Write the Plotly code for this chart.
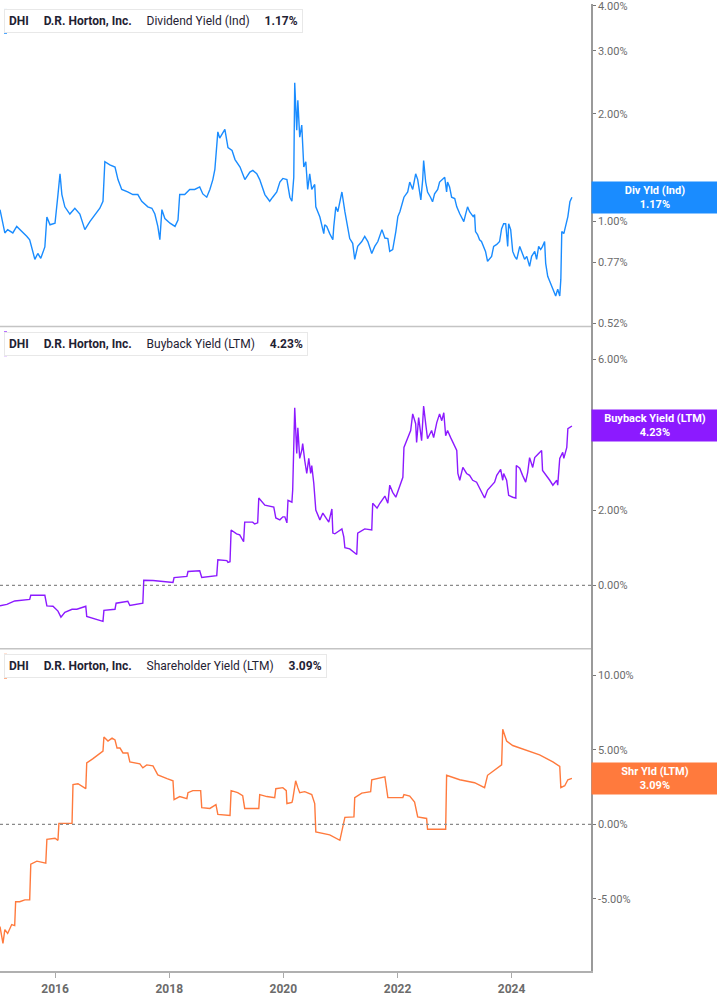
import numpy as np
import plotly.graph_objects as go

# ---------------- data ----------------
div_dates = [
    "2015-01-14","2015-02-14","2015-03-04","2015-04-06","2015-05-01","2015-06-03","2015-07-04","2015-07-23","2015-08-12","2015-08-25","2015-09-13","2015-10-02","2015-10-28","2015-11-10","2015-11-30",
    "2016-01-01","2016-01-20","2016-02-02","2016-02-14","2016-03-04","2016-04-05","2016-05-07","2016-06-08","2016-07-10","2016-08-11","2016-09-13","2016-10-14","2016-11-03","2016-11-15","2016-12-17",
    "2017-01-19","2017-02-07","2017-03-03","2017-04-10","2017-05-13","2017-06-14","2017-07-09","2017-08-17","2017-09-12","2017-10-01","2017-10-20","2017-11-02","2017-11-15","2017-12-04",
    "2018-01-06","2018-02-07","2018-02-26","2018-03-09","2018-04-10","2018-05-12","2018-06-13","2018-07-15","2018-08-04","2018-08-29","2018-09-18","2018-10-07","2018-10-20","2018-11-08","2018-11-20","2018-12-23",
    "2019-01-12","2019-02-07","2019-02-26","2019-03-30","2019-04-30","2019-06-01","2019-06-20","2019-07-15","2019-08-03","2019-09-05","2019-10-06","2019-10-25","2019-11-20","2019-12-10","2019-12-29",
    "2020-01-24","2020-02-12","2020-02-25","2020-03-08","2020-03-14","2020-03-27","2020-04-03","2020-04-15","2020-04-28","2020-05-11","2020-05-24","2020-06-05","2020-06-18","2020-07-01","2020-07-20","2020-07-27","2020-08-22","2020-09-03","2020-09-16","2020-09-22","2020-10-05","2020-10-24","2020-11-13","2020-11-19","2020-12-02","2020-12-15","2020-12-28",
    "2021-01-10","2021-01-29","2021-02-17","2021-03-01","2021-03-20","2021-04-02","2021-04-21","2021-05-17","2021-06-05","2021-06-25","2021-07-20","2021-08-08","2021-08-28","2021-09-23","2021-10-12","2021-10-31","2021-11-12","2021-12-01","2021-12-21",
    "2022-01-03","2022-01-16","2022-02-11","2022-03-07","2022-03-20","2022-04-08","2022-04-27","2022-05-10","2022-05-30","2022-06-11","2022-06-17","2022-06-30","2022-07-12","2022-07-31","2022-08-13","2022-08-26","2022-09-15","2022-09-27","2022-10-17","2022-10-30","2022-11-11","2022-11-17","2022-11-30","2022-12-13",
    "2023-01-02","2023-01-15","2023-02-03","2023-02-16","2023-03-01","2023-03-12","2023-03-25","2023-04-07","2023-04-30","2023-05-09","2023-05-15","2023-05-28","2023-06-10","2023-06-22","2023-07-06","2023-07-18","2023-07-31","2023-08-13","2023-08-26","2023-09-08","2023-09-28","2023-10-16","2023-10-29","2023-11-11","2023-11-24","2023-12-07","2023-12-13","2023-12-26",
    "2024-01-08","2024-01-21","2024-02-03","2024-02-22","2024-03-11","2024-03-24","2024-04-07","2024-04-19","2024-04-25","2024-05-08","2024-05-28","2024-06-09","2024-06-22","2024-07-05","2024-07-17","2024-07-30","2024-08-06","2024-08-19","2024-09-01","2024-09-14","2024-09-27","2024-10-09","2024-10-22","2024-11-04","2024-11-11","2024-11-17","2024-11-30","2024-12-13","2024-12-26",
    "2025-01-08","2025-01-21",
]
div_vals = [
    1.08,0.93,0.95,0.93,0.97,0.94,0.91,0.89,0.83,0.785,0.815,0.79,0.85,1.03,0.98,
    0.99,1.19,1.36,1.19,1.10,1.05,1.09,1.05,0.95,1.00,1.05,1.09,1.14,1.47,1.44,
    1.42,1.31,1.23,1.21,1.19,1.19,1.14,1.10,1.09,1.05,0.97,0.89,1.08,1.02,
    0.99,0.97,1.01,1.19,1.19,1.23,1.23,1.25,1.195,1.17,1.23,1.31,1.40,1.78,1.71,1.81,
    1.61,1.58,1.49,1.42,1.31,1.375,1.39,1.36,1.31,1.19,1.14,1.17,1.21,1.29,1.32,
    1.31,1.17,1.14,1.33,2.44,1.80,2.18,1.72,1.86,1.42,1.47,1.23,1.36,1.23,1.27,1.10,1.03,0.97,0.926,0.98,0.97,0.926,0.89,0.97,1.10,1.066,1.136,
    1.21,1.066,0.97,0.897,0.87,0.785,0.853,0.88,0.91,0.88,0.815,0.853,0.88,0.95,0.90,0.897,0.826,0.836,0.938,
    1.033,1.066,1.17,1.21,1.29,1.23,1.36,1.31,1.15,1.31,1.48,1.29,1.21,1.17,1.136,1.195,1.23,1.29,1.31,1.33,1.21,1.29,1.25,1.17,
    1.16,1.10,1.052,1.02,1.00,1.046,1.10,1.066,1.033,1.046,0.938,0.92,0.89,0.88,0.853,0.826,0.775,0.785,0.80,0.853,0.864,0.88,0.956,0.987,0.987,0.853,0.987,0.95,
    0.826,0.80,0.785,0.853,0.815,0.785,0.80,0.765,0.75,0.80,0.826,0.785,0.853,0.836,0.853,0.88,0.765,0.704,0.682,0.66,0.64,0.62,0.648,0.62,0.691,0.938,0.926,0.987,1.033,
    1.136,1.17,
]

bb_dates = [
    "2015-01-14","2015-02-27","2015-04-18","2015-07-23","2015-07-30","2015-10-28","2015-11-10","2015-12-19",
    "2016-01-20","2016-02-08","2016-03-04","2016-04-19","2016-05-20","2016-07-16","2016-07-22","2016-09-26","2016-11-03","2016-11-09",
    "2017-01-19","2017-01-26","2017-04-11","2017-04-24","2017-07-16","2017-07-22","2017-09-19",
    "2018-01-25","2018-02-01","2018-04-24","2018-05-01","2018-07-15","2018-07-28","2018-11-01","2018-11-08",
    "2019-01-05","2019-01-12","2019-01-25","2019-02-01","2019-03-08","2019-03-28","2019-04-22","2019-04-29","2019-06-19","2019-07-02","2019-07-21","2019-07-28","2019-09-05","2019-10-19","2019-11-01","2019-11-14","2019-12-10","2019-12-29",
    "2020-01-11","2020-01-24","2020-01-31","2020-02-25","2020-03-01","2020-03-14","2020-03-27","2020-04-03","2020-04-15","2020-04-28","2020-05-04","2020-05-17","2020-05-30","2020-06-12","2020-06-24","2020-07-01","2020-07-14","2020-07-27","2020-08-22","2020-09-10","2020-10-05","2020-10-18","2020-11-07","2020-11-13","2020-11-26",
    "2021-01-10","2021-01-22","2021-01-29","2021-03-01","2021-04-15","2021-04-21","2021-06-05","2021-07-20","2021-07-26","2021-08-23","2021-09-10","2021-10-12","2021-10-31","2021-11-12","2021-12-01","2021-12-21",
    "2022-01-16","2022-02-04","2022-02-11","2022-03-07","2022-03-26","2022-04-08","2022-04-27","2022-05-03","2022-05-16","2022-06-04","2022-06-17","2022-06-30","2022-07-12","2022-08-07","2022-08-20","2022-09-09","2022-09-27","2022-10-11","2022-10-24","2022-11-05","2022-11-17","2022-12-07","2022-12-20",
    "2023-01-15","2023-01-22","2023-02-03","2023-02-23","2023-03-19","2023-04-07","2023-04-27","2023-05-22","2023-06-10","2023-07-12","2023-07-31","2023-08-26","2023-09-14","2023-09-28","2023-10-23","2023-11-05","2023-11-11","2023-11-30","2023-12-13",
    "2024-01-08","2024-01-28","2024-01-31","2024-02-22","2024-03-11","2024-03-31","2024-04-13","2024-04-25","2024-05-15","2024-05-28","2024-06-22","2024-07-11","2024-07-17","2024-08-12","2024-09-01","2024-09-21","2024-10-16","2024-10-22","2024-11-04","2024-11-23","2024-11-30","2024-12-19","2024-12-26",
    "2025-01-21",
]
bb_vals = [
    -0.54,-0.50,-0.41,-0.37,-0.26,-0.26,-0.54,-0.55,
    -0.68,-0.84,-0.71,-0.63,-0.63,-0.55,-0.82,-0.89,-0.95,-0.66,
    -0.63,-0.47,-0.42,-0.53,-0.47,0.14,0.13,
    0.08,0.21,0.24,0.37,0.39,0.21,0.26,0.68,
    0.66,0.61,0.63,1.47,1.37,1.34,1.16,1.68,1.68,1.63,1.66,2.32,2.13,2.08,2.08,1.79,1.74,1.82,
    1.82,1.66,2.26,2.21,2.53,4.71,3.50,4.18,3.37,3.58,3.76,3.32,2.97,3.37,2.97,3.18,2.71,2.00,1.74,1.92,1.74,1.68,2.03,1.39,1.37,
    1.50,1.29,1.00,0.97,0.82,1.39,1.50,1.47,2.18,2.05,2.18,2.37,2.18,2.66,2.47,2.34,
    2.66,2.87,3.66,3.92,4.11,4.55,4.29,3.79,4.45,3.84,4.76,4.29,3.89,4.11,3.92,4.32,4.55,4.37,4.58,3.97,4.11,3.92,3.79,
    3.58,2.97,2.79,3.13,2.97,2.92,2.79,2.74,2.58,2.32,2.53,2.66,2.74,2.92,3.08,2.79,2.97,2.79,2.39,
    2.34,2.32,3.18,3.11,2.92,2.74,3.00,3.39,3.13,3.39,3.50,3.58,3.05,2.92,2.79,2.66,2.79,2.66,3.37,3.53,3.37,3.66,4.16,
    4.23,
]

shy_dates = [
    "2015-01-14","2015-02-02","2015-02-14","2015-03-04","2015-03-30","2015-04-18","2015-04-24","2015-05-20","2015-06-22","2015-07-23","2015-07-30","2015-09-07","2015-11-03","2015-11-10",
    "2016-01-01","2016-01-20","2016-01-26","2016-04-19","2016-04-25","2016-05-27","2016-07-16","2016-07-22","2016-08-29","2016-10-01","2016-11-03","2016-11-09","2016-12-05","2016-12-31",
    "2017-01-19","2017-02-01","2017-02-20","2017-03-11","2017-04-11","2017-04-24","2017-06-27","2017-07-16","2017-08-10","2017-09-19","2017-10-20","2017-12-18",
    "2018-01-25","2018-02-01","2018-03-09","2018-04-24","2018-05-01","2018-06-01","2018-07-21","2018-07-28","2018-09-18","2018-10-27","2018-11-08",
    "2019-01-25","2019-02-01","2019-03-15","2019-04-16","2019-04-29","2019-07-28","2019-08-03","2019-09-18","2019-11-07","2019-11-14","2019-12-29",
    "2020-01-20","2020-01-24","2020-02-25","2020-03-01","2020-03-20","2020-04-03","2020-04-15","2020-05-17","2020-07-01","2020-07-20","2020-07-27","2020-10-24","2020-12-28",
    "2021-01-29","2021-03-28","2021-04-02","2021-05-17","2021-07-13","2021-07-20","2021-10-12","2021-10-31",
    "2022-02-04","2022-02-11","2022-03-20","2022-04-20","2022-05-10","2022-07-06","2022-07-12","2022-11-05","2022-11-11",
    "2023-02-03","2023-05-09","2023-07-12","2023-07-31","2023-09-28","2023-10-29","2023-11-05","2023-11-30",
    "2024-01-08","2024-03-24","2024-06-28","2024-09-21","2024-11-04","2024-11-11","2024-12-06","2024-12-26",
    "2025-01-21",
]
shy_vals = [
    -6.87,-8.0,-7.07,-7.33,-6.73,-6.8,-5.2,-5.2,-5.07,-5.07,-2.67,-2.47,-2.6,-1.0,
    -0.93,-1.07,0.07,0.07,2.67,2.73,2.4,4.13,4.4,4.67,4.93,5.87,5.6,5.8,
    5.67,5.13,5.13,4.8,4.8,4.2,4.07,3.8,4.0,3.93,3.33,3.07,
    2.93,1.67,1.87,1.73,2.13,2.27,2.27,1.13,1.07,1.33,0.67,
    0.6,2.27,2.13,1.93,1.07,1.07,2.0,1.87,1.8,2.4,2.47,
    2.27,1.4,1.47,1.67,2.93,2.47,2.13,2.2,2.0,1.4,-0.5,-0.7,-1.07,
    0.47,0.5,1.8,2.1,2.2,3.0,3.2,1.8,
    1.8,2.0,1.9,1.5,0.5,0.4,-0.33,-0.33,3.3,
    3.0,2.8,2.47,3.3,3.8,4.0,6.4,5.6,
    5.3,5.0,4.67,4.2,3.9,2.47,2.6,3.0,
    3.09,
]

year_ticks = ["2016-01-01", "2018-01-01", "2020-01-01", "2022-01-01", "2024-01-01"]
year_labels = ["2016", "2018", "2020", "2022", "2024"]
div_ticks = [0.52, 0.77, 1.00, 2.00, 3.00, 4.00]
bb_ticks = [0.0, 2.0, 4.0, 6.0]
shy_ticks = [-5.0, 0.0, 5.0, 10.0]

# ---------------- style ----------------
W, H = 717, 1005
BLUE = "#1a8cff"
PURPLE = "#8c1aff"
ORANGE = "#ff7a3d"
AXIS = "#9a9a9a"
TICKFONT = dict(family="Roboto, Arial, sans-serif", size=11, color="#6b6b6b")
XR = 591 / W  # right edge of plot area


def py(px):
    return 1 - px / H


fig = go.Figure()
fig.add_trace(go.Scatter(x=div_dates, y=div_vals, mode="lines", yaxis="y",
                         line=dict(color=BLUE, width=1.4), hoverinfo="x+y"))
fig.add_trace(go.Scatter(x=bb_dates, y=bb_vals, mode="lines", yaxis="y2",
                         line=dict(color=PURPLE, width=1.4), hoverinfo="x+y"))
fig.add_trace(go.Scatter(x=shy_dates, y=shy_vals, mode="lines", yaxis="y3",
                         line=dict(color=ORANGE, width=1.4), hoverinfo="x+y"))


def yax(domain, rng, ticks, **kw):
    d = dict(domain=domain, range=rng, side="right", anchor="x",
             showgrid=False, zeroline=False, showline=True, linecolor=AXIS,
             linewidth=1.5, ticks="outside", ticklen=3, tickcolor="#777",
             tickvals=ticks, ticktext=[f"{t:.2f}%" for t in ticks],
             tickfont=TICKFONT, fixedrange=True, ticklabeloverflow="allow")
    d.update(kw)
    return d


fig.update_layout(
    width=W, height=H,
    margin=dict(l=0, r=0, t=0, b=0),
    paper_bgcolor="white", plot_bgcolor="white",
    showlegend=False,
    font=dict(family="Roboto, Arial, sans-serif"),
    xaxis=dict(domain=[0, XR], anchor="y3", type="date",
               range=["2015-01-14", "2025-05-23"],
               showgrid=False, zeroline=False, showline=True, linecolor="#b0b0b0",
               linewidth=2, ticks="outside", ticklen=5, tickcolor="#aaa",
               tickvals=year_ticks, ticktext=[f"<b>{t}</b>" for t in year_labels],
               tickfont=dict(family="Roboto, Arial, sans-serif", size=12, color="#6b6b6b")),
    yaxis=yax([py(325), 1], [np.log10(0.51), np.log10(4.05)], div_ticks, type="log"),
    yaxis2=yax([py(650), py(325)], [-1.68, 6.87], bb_ticks),
    yaxis3=yax([py(975), py(650)], [-9.87, 11.8], shy_ticks),
)

shapes = []
# panel separators
for ypx in (325, 650):
    shapes.append(dict(type="line", xref="paper", yref="paper", x0=0, x1=XR,
                       y0=py(ypx), y1=py(ypx), line=dict(color="#c4c4c4", width=1.5)))
# zero dotted lines
for yr in ("y2", "y3"):
    shapes.append(dict(type="line", xref="paper", yref=yr, x0=0, x1=XR, y0=0, y1=0,
                       line=dict(color="#8a8a8a", width=1.2, dash="dot")))

annotations = []
SP = "\u00a0" * 5
panels = [
    (0, BLUE, "Dividend Yield (Ind)", div_vals[-1], "Div Yld (Ind)", "y", np.log10(div_vals[-1])),
    (325, PURPLE, "Buyback Yield (LTM)", bb_vals[-1], "Buyback Yield (LTM)", "y2", bb_vals[-1]),
    (650, ORANGE, "Shareholder Yield (LTM)", shy_vals[-1], "Shr Yld (LTM)", "y3", shy_vals[-1]),
]
for top, col, name, last, short, yref, ypos in panels:
    annotations.append(dict(
        xref="paper", yref="paper", x=4 / W, y=py(top + 17.5), xanchor="left", yanchor="middle",
        text=f"<b>DHI</b>{SP}<b>D.R. Horton, Inc.</b>{SP}{name}{SP}<b>{last:.2f}%</b>",
        showarrow=False, bgcolor="white", bordercolor="#e8e8e8", borderwidth=1,
        borderpad=4, font=dict(size=12, color="#1f2233"), align="left"))
    shapes.append(dict(type="rect", xref="paper", yref="paper",
                       x0=4 / W, x1=7 / W, y0=py(top + 30), y1=py(top + 5),
                       fillcolor=col, line=dict(width=0)))
    annotations.append(dict(
        xref="paper", yref=yref, x=XR, y=ypos, xanchor="left", yanchor="middle",
        text=f"<b>{short}</b><br><b>{last:.2f}%</b>", showarrow=False,
        bgcolor=col, borderpad=2, width=122, align="center",
        font=dict(size=11, color="white")))

fig.update_layout(shapes=shapes, annotations=annotations)
fig.write_html("out.html", config={"displayModeBar": False},
               post_script="document.body.style.margin='0px';document.body.style.overflow='hidden';")
